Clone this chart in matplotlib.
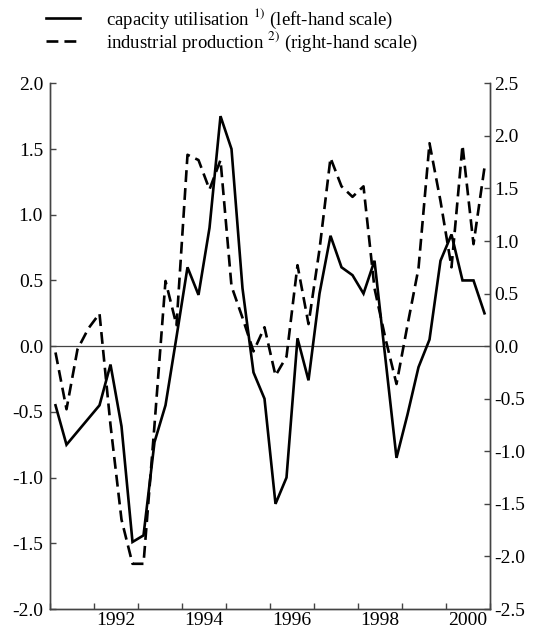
import numpy as np
import matplotlib
matplotlib.use("Agg")
import matplotlib.pyplot as plt
from matplotlib.ticker import FixedLocator, FixedFormatter

plt.rcParams['font.family'] = ['Liberation Serif', 'DejaVu Serif']
plt.rcParams['mathtext.fontset'] = 'stix'
plt.rcParams['axes.unicode_minus'] = False

# quarterly observations 1991Q1 .. 2000Q4
years = list(range(1991, 2001))
quarters = [y + (q + 0.5) / 4 for y in years for q in range(4)]

capacity = [-0.45, -0.75, -0.65, -0.55, -0.45, -0.14, -0.61, -1.49, -1.44, -0.73,
            -0.45, 0.07, 0.60, 0.39, 0.90, 1.75, 1.50, 0.44, -0.20, -0.40,
            -1.20, -1.00, 0.06, -0.26, 0.40, 0.84, 0.60, 0.54, 0.40, 0.65,
            -0.10, -0.85, -0.52, -0.16, 0.05, 0.65, 0.85, 0.50, 0.50, 0.25]

production = [-0.06, -0.60, -0.03, 0.17, 0.31, -0.75, -1.65, -2.07, -2.07, -0.75,
              0.62, 0.20, 1.82, 1.77, 1.49, 1.77, 0.57, 0.27, -0.05, 0.18,
              -0.28, -0.10, 0.77, 0.21, 0.92, 1.79, 1.52, 1.42, 1.52, 0.55,
              0.07, -0.36, 0.20, 0.74, 1.93, 1.38, 0.75, 1.91, 0.97, 1.70]

left_ticks = [-2.0, -1.5, -1.0, -0.5, 0.0, 0.5, 1.0, 1.5, 2.0]
right_ticks = [-2.5, -2.0, -1.5, -1.0, -0.5, 0.0, 0.5, 1.0, 1.5, 2.0, 2.5]
year_labels = ['1992', '1994', '1996', '1998', '2000']
label_pos = [1992.5, 1994.5, 1996.5, 1998.5, 2000.5]

label_cap = r'capacity utilisation $^{1)}$ (left-hand scale)'
label_ind = r'industrial production $^{2)}$ (right-hand scale)'

fig = plt.figure(figsize=(5.35, 6.3), dpi=100)
ax = fig.add_axes([50/535, 1 - 609/630, 440/535, (609 - 83.3)/630])
ax2 = ax.twinx()

spine_col = '#444444'
fs = 14

l1, = ax.plot(quarters, capacity, color='black', lw=1.9, solid_joinstyle='miter')
l2, = ax2.plot(quarters, production, color='black', lw=1.9, linestyle=(0, (4.5, 2.3)))
ax.axhline(0, color=spine_col, lw=0.9, zorder=0)

ax.set_xlim(1991, 2001)
ax.set_ylim(-2.0, 2.0)
ax2.set_ylim(-2.5, 2.5)

ax.set_yticks(left_ticks)
ax.set_yticklabels([f'{v:.1f}' for v in left_ticks])
ax2.set_yticks(right_ticks)
ax2.set_yticklabels([f'{v:.1f}' for v in right_ticks])

ax.xaxis.set_major_locator(FixedLocator(list(range(1991, 2002))))
ax.xaxis.set_major_formatter(FixedFormatter([''] * 11))
ax.xaxis.set_minor_locator(FixedLocator(label_pos))
ax.xaxis.set_minor_formatter(FixedFormatter(year_labels))

for a in (ax, ax2):
    a.spines['top'].set_visible(False)
    for s in ('left', 'right', 'bottom'):
        a.spines[s].set_color(spine_col)
        a.spines[s].set_linewidth(1.0)
    a.tick_params(axis='both', which='major', direction='in', length=4,
                  width=1.0, color=spine_col, labelsize=fs, pad=5)

ax.tick_params(axis='x', which='minor', length=0, labelsize=fs, pad=2)
ax.tick_params(axis='x', which='major', pad=2)
ax2.tick_params(axis='y', pad=3)

leg = fig.legend([l1, l2], [label_cap, label_ind], loc='upper left',
                 bbox_to_anchor=(38/535, 1 + 1/630), frameon=False, fontsize=13.5,
                 handlelength=1.85, handletextpad=1.35, labelspacing=-0.05,
                 borderaxespad=0)

fig.savefig('out.png', dpi=100)
